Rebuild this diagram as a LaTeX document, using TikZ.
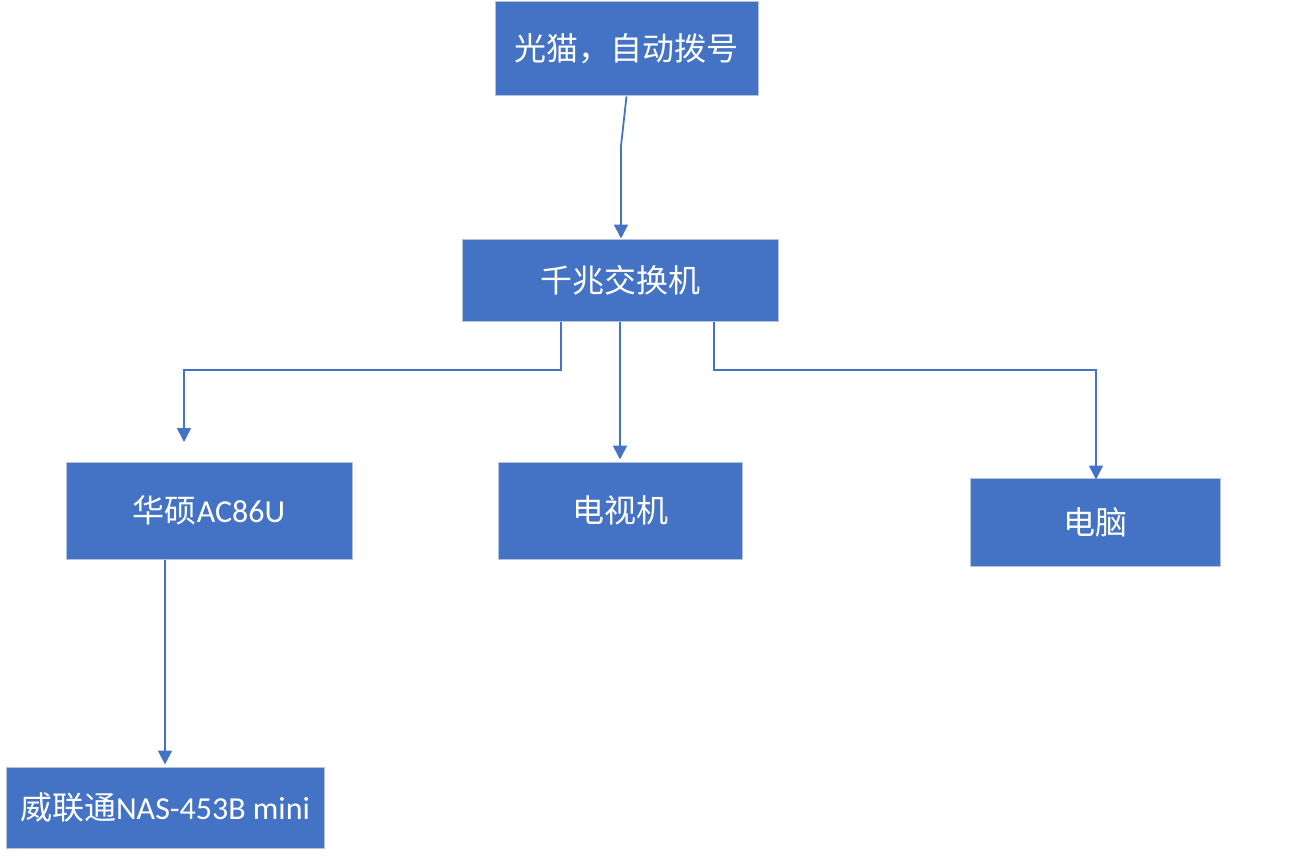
\documentclass[tikz,border=0pt]{standalone}
\usepackage{fontspec}
\setmainfont{Carlito}
\newfontfamily\cjk{Noto Sans CJK SC}
\usetikzlibrary{arrows.meta}
\definecolor{boxblue}{HTML}{4472C4}
\definecolor{boxedge}{HTML}{B4C2DC}
\begin{document}
\begin{tikzpicture}[x=1pt,y=-1pt,
  box/.style={rectangle, fill=boxblue, draw=boxedge, line width=1pt, text=white,
    inner sep=0pt, font=\fontsize{32}{38}\selectfont},
  link/.style={draw=boxblue, line width=1.8pt, -{Triangle[width=14pt,length=14pt]}}]
\useasboundingbox[fill=white] (0,0) rectangle (1296,864);
\node[box, minimum width=263pt, minimum height=94pt] (modem) at (626.5,49) {{\cjk 光猫，自动拨号}};
\node[box, minimum width=316pt, minimum height=82pt] (sw) at (620,280) {{\cjk 千兆交换机}};
\node[box, minimum width=286pt, minimum height=97pt] (ac) at (209,510.5) {{\cjk 华硕}AC86U};
\node[box, minimum width=244pt, minimum height=97pt] (tv) at (620,510.5) {{\cjk 电视机}};
\node[box, minimum width=250pt, minimum height=88pt] (pc) at (1095,522) {{\cjk 电脑}};
\node[box, minimum width=318pt, minimum height=81pt] (nas) at (165,807.5) {{\cjk 威联通}NAS-453B mini};
\coordinate (bend) at (621,146);
\coordinate (acin) at (184,442);
\coordinate (jl) at (184,370);
\coordinate (jr) at (1096,370);
\draw[link] (modem.south) -- (bend) -- (bend |- sw.north);
\draw[link] ([xshift=-59pt]sw.south) |- (jl) -- (acin);
\draw[link, shorten >=2pt] (sw.south) -- (tv.north);
\draw[link] ([xshift=94pt]sw.south) |- (jr) -- ([yshift=-2pt]pc.north -| jr);
\draw[link, shorten >=2pt] (ac.south -| nas.north) -- (nas.north);
\end{tikzpicture}
\end{document}
